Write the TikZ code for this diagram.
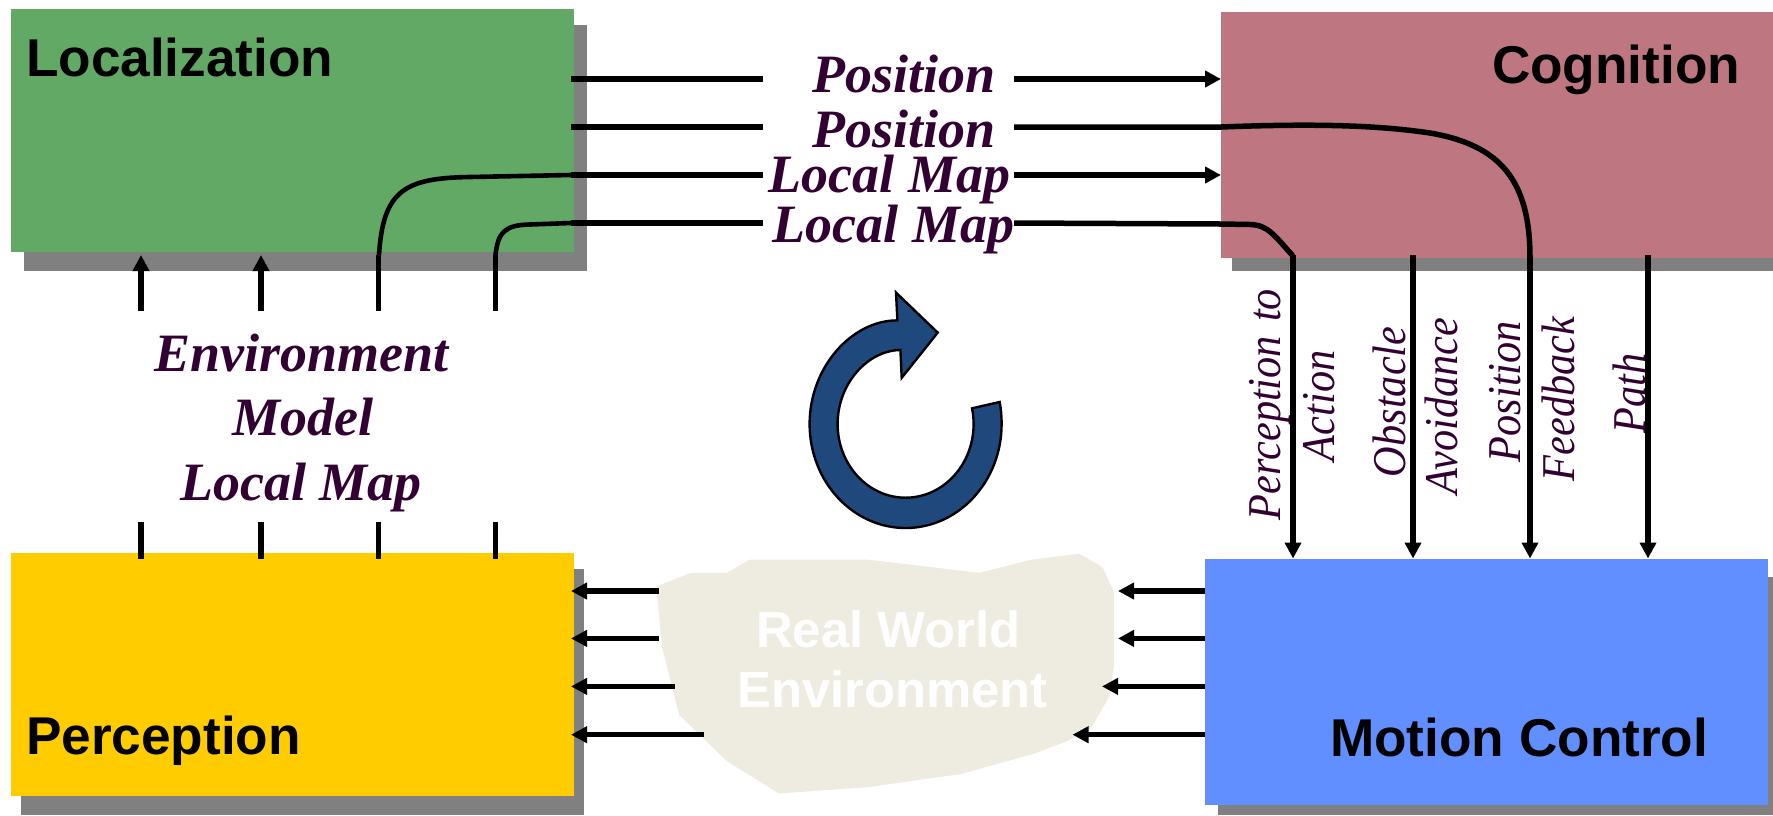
\documentclass[tikz,border=0pt]{standalone}
\usepackage{fontspec}
\setmainfont{Liberation Sans}
\newfontfamily\labelfont{Liberation Serif}
\usetikzlibrary{arrows.meta}
\definecolor{shadowgray}{HTML}{808080}
\definecolor{locgreen}{HTML}{63A966}
\definecolor{coggrose}{HTML}{BE7680}
\definecolor{percyellow}{HTML}{FFCC00}
\definecolor{motblue}{HTML}{628FFF}
\definecolor{worldbeige}{HTML}{EEECE1}
\definecolor{labelpurple}{HTML}{330033}
\definecolor{turnblue}{HTML}{1F497D}
\newcommand{\narrowtext}[1]{\scalebox{0.9}[1]{#1}}
\tikzset{
  x=1pt,y=-1pt,
  blockbox/.style={rectangle,draw=none,inner sep=0,outer sep=0,anchor=north west},
  shadowbox/.style={rectangle,fill=shadowgray,draw=none,inner sep=0,outer sep=0,anchor=north west},
  blocktitle/.style={inner sep=0,outer sep=0,anchor=base west,font=\fontsize{53.2}{53.2}\selectfont\bfseries,text=black},
  worldtext/.style={inner sep=0,outer sep=0,anchor=base,font=\fontsize{50.8}{50.8}\selectfont\bfseries,text=white},
  flowlabel/.style={inner sep=0,outer sep=0,anchor=base,font=\fontsize{54}{54}\labelfont\bfseries\itshape\selectfont,text=labelpurple},
  sidelabel/.style={inner sep=0,outer sep=0,anchor=base west,rotate=90,font=\fontsize{47}{47}\labelfont\itshape\selectfont,text=labelpurple},
  wire/.style={line width=5.5pt,draw=black},
  thinwire/.style={line width=4.6pt,draw=black},
  flow/.style={wire,-{Triangle[length=16pt,width=16pt]}},
}
\begin{document}
\begin{tikzpicture}
\useasboundingbox (0,0) rectangle (1773,815);
% shadows
\node[shadowbox,minimum width=563pt,minimum height=246pt] (locshadow) at (24,25) {};
\node[shadowbox,minimum width=541pt,minimum height=246pt] (cogshadow) at (1232,25) {};
\node[shadowbox,minimum width=563pt,minimum height=246pt] (pershadow) at (21,569) {};
\node[shadowbox,minimum width=555pt,minimum height=238pt] (motshadow) at (1218,577) {};
% boxes
\node[blockbox,fill=locgreen,minimum width=563pt,minimum height=243pt] (loc) at (11,9) {};
\node[blockbox,fill=coggrose,minimum width=552pt,minimum height=246pt] (cog) at (1221,12) {};
\node[blockbox,fill=percyellow,minimum width=563pt,minimum height=243pt] (per) at (11,553) {};
\node[blockbox,fill=motblue,minimum width=563pt,minimum height=246pt] (mot) at (1205,558.5) {};
\node[blocktitle] (loct) at (26,76) {Localization};
\node[blocktitle] (cogt) at (1492,83) {Cognition};
\node[blocktitle] (pert) at (26,754) {Perception};
\node[blocktitle] (mott) at (1330,756.5) {Motion Control};
% real world
\path[fill=worldbeige] (560,270) ++(96.3,316.4) -- ++(35,-13.6) -- ++(35.5,0) -- ++(23,-13.2)
 -- ++(118,0) -- ++(111.4,13.2) -- ++(52.5,-13.2) -- ++(47.3,-5.9) -- ++(23.4,13.2)
 -- ++(11.7,25) -- ++(0,72.6) -- ++(-4.3,31.3) -- ++(-19.1,33) -- ++(-23.4,12.2)
 -- ++(-33.4,12.8) -- ++(-72.9,20.2) -- ++(-93.2,13.2) -- ++(-88.9,6.3) -- ++(-52,-32.3)
 -- ++(-47.7,-46.2) -- ++(-17.3,-68.6) -- cycle;
\node[worldtext] (w1) at (888.5,647) {Real World};
\node[worldtext] (w2) at (892.5,707) {Environment};
% turn arrow
\path[fill=turnblue,draw=black,line width=2.4pt,line join=miter]
 (896,292.6) -- (937.7,332.6) -- (901.7,377.8) -- (900.4,350)
 .. controls (868,350.3) and (837.6,383.3) .. (837.6,424)
 .. controls (837.6,464.7) and (868,497.7) .. (905.6,497.7)
 .. controls (943.2,497.7) and (973.6,464.7) .. (973.6,424)
 .. controls (973.6,418) and (973,413) .. (972,408.3)
 -- (999.7,402)
 .. controls (1001,409) and (1001.6,416) .. (1001.6,424)
 .. controls (1001.6,481.4) and (958.6,528) .. (905.6,528)
 .. controls (852.6,528) and (809.6,481.4) .. (809.6,424)
 .. controls (809.6,366.6) and (852.6,320) .. (897.4,320.4)
 -- cycle;
% flow labels
\node[flowlabel] (lpos1) at (904,92) {Position};
\node[flowlabel] (lpos2) at (904,147) {Position};
\node[flowlabel] (lmap1) at (889.5,192) {Local Map};
\node[flowlabel] (lmap2) at (893.5,242) {Local Map};
\node[flowlabel] (env1) at (301.5,371) {Environment};
\node[flowlabel] (env2) at (303,435) {Model};
\node[flowlabel] (env3) at (301,500) {Local Map};
% coordinates
\coordinate (a1) at (571,79); \coordinate (a1b) at (763,79);
\coordinate (a1c) at (1014,79); \coordinate (a1d) at (1221,79);
\coordinate (a2) at (571,127); \coordinate (a2b) at (763,127);
\coordinate (a2c) at (1014,127); \coordinate (a2d) at (1221,127);
\coordinate (a3) at (571,175); \coordinate (a3b) at (763,175);
\coordinate (a3c) at (1014,175); \coordinate (a3d) at (1221,175);
\coordinate (a4) at (571,223); \coordinate (a4b) at (763,223);
\coordinate (a4c) at (1014,223); \coordinate (a4d) at (1221,224);
% top rows
\draw[wire] (a1) -- (a1b);
\draw[flow] (a1c) -- (a1d);
\draw[wire] (a2) -- (a2b);
\draw[wire] (a2c) -- (a2d) .. controls (1300,124) and (1370,124) .. (1430,133) .. controls (1500,145) and (1530,180) .. (1530,258);
\draw[wire] (a3) -- (a3b);
\draw[flow] (a3c) -- (a3d);
\draw[wire] (a4) -- (a4b);
\draw[wire] (a4c) -- (a4d) -- (1250,224.5) .. controls (1268,225) and (1274,235) .. (1293,256);
% localization in-loops
\draw[thinwire] (a3) -- (470,177) .. controls (405,178) and (383,190) .. (379,255);
\draw[thinwire] (a4) -- (530,224.5) .. controls (505,225) and (498,232) .. (495.5,255);
% vertical bottom of perception to localization
\foreach \x in {141,261}{
  \draw[wire,-{Triangle[length=16pt,width=16pt]}] (\x,311) -- (\x,255);
}
\foreach \x in {378.6,495.5}{
  \draw[wire] (\x,311) -- (\x,255);
}
\foreach \x in {141,261,378.6,495.5}{
  \draw[wire] (\x,522) -- (\x,559);
}
% down arrows
\foreach \x in {1293,1413,1530,1648}{
  \draw[flow] (\x,255) -- (\x,558.5);
}
% world arrows
\foreach \y/\l/\r in {591/659/1118,638.4/659/1118,686.4/674.5/1102,734.7/704/1072.5}{
  \draw[flow] (\l,\y) -- (571,\y);
  \draw[flow] (1205,\y) -- (\r,\y);
}
% rotated labels
\node[sidelabel] (s1) at (1280,520) {\narrowtext{Perception\hspace{4pt} to}};
\node[sidelabel] (s2) at (1334,461) {\narrowtext{Action}};
\node[sidelabel] (s3) at (1405,477) {\narrowtext{Obstacle}};
\node[sidelabel] (s4) at (1457,494) {\narrowtext{Avoidance}};
\node[sidelabel] (s5) at (1520.5,462) {\narrowtext{Position}};
\node[sidelabel] (s6) at (1574,481) {\narrowtext{Feedback}};
\node[sidelabel] (s7) at (1645,433) {\narrowtext{Path}};
\end{tikzpicture}
\end{document}
